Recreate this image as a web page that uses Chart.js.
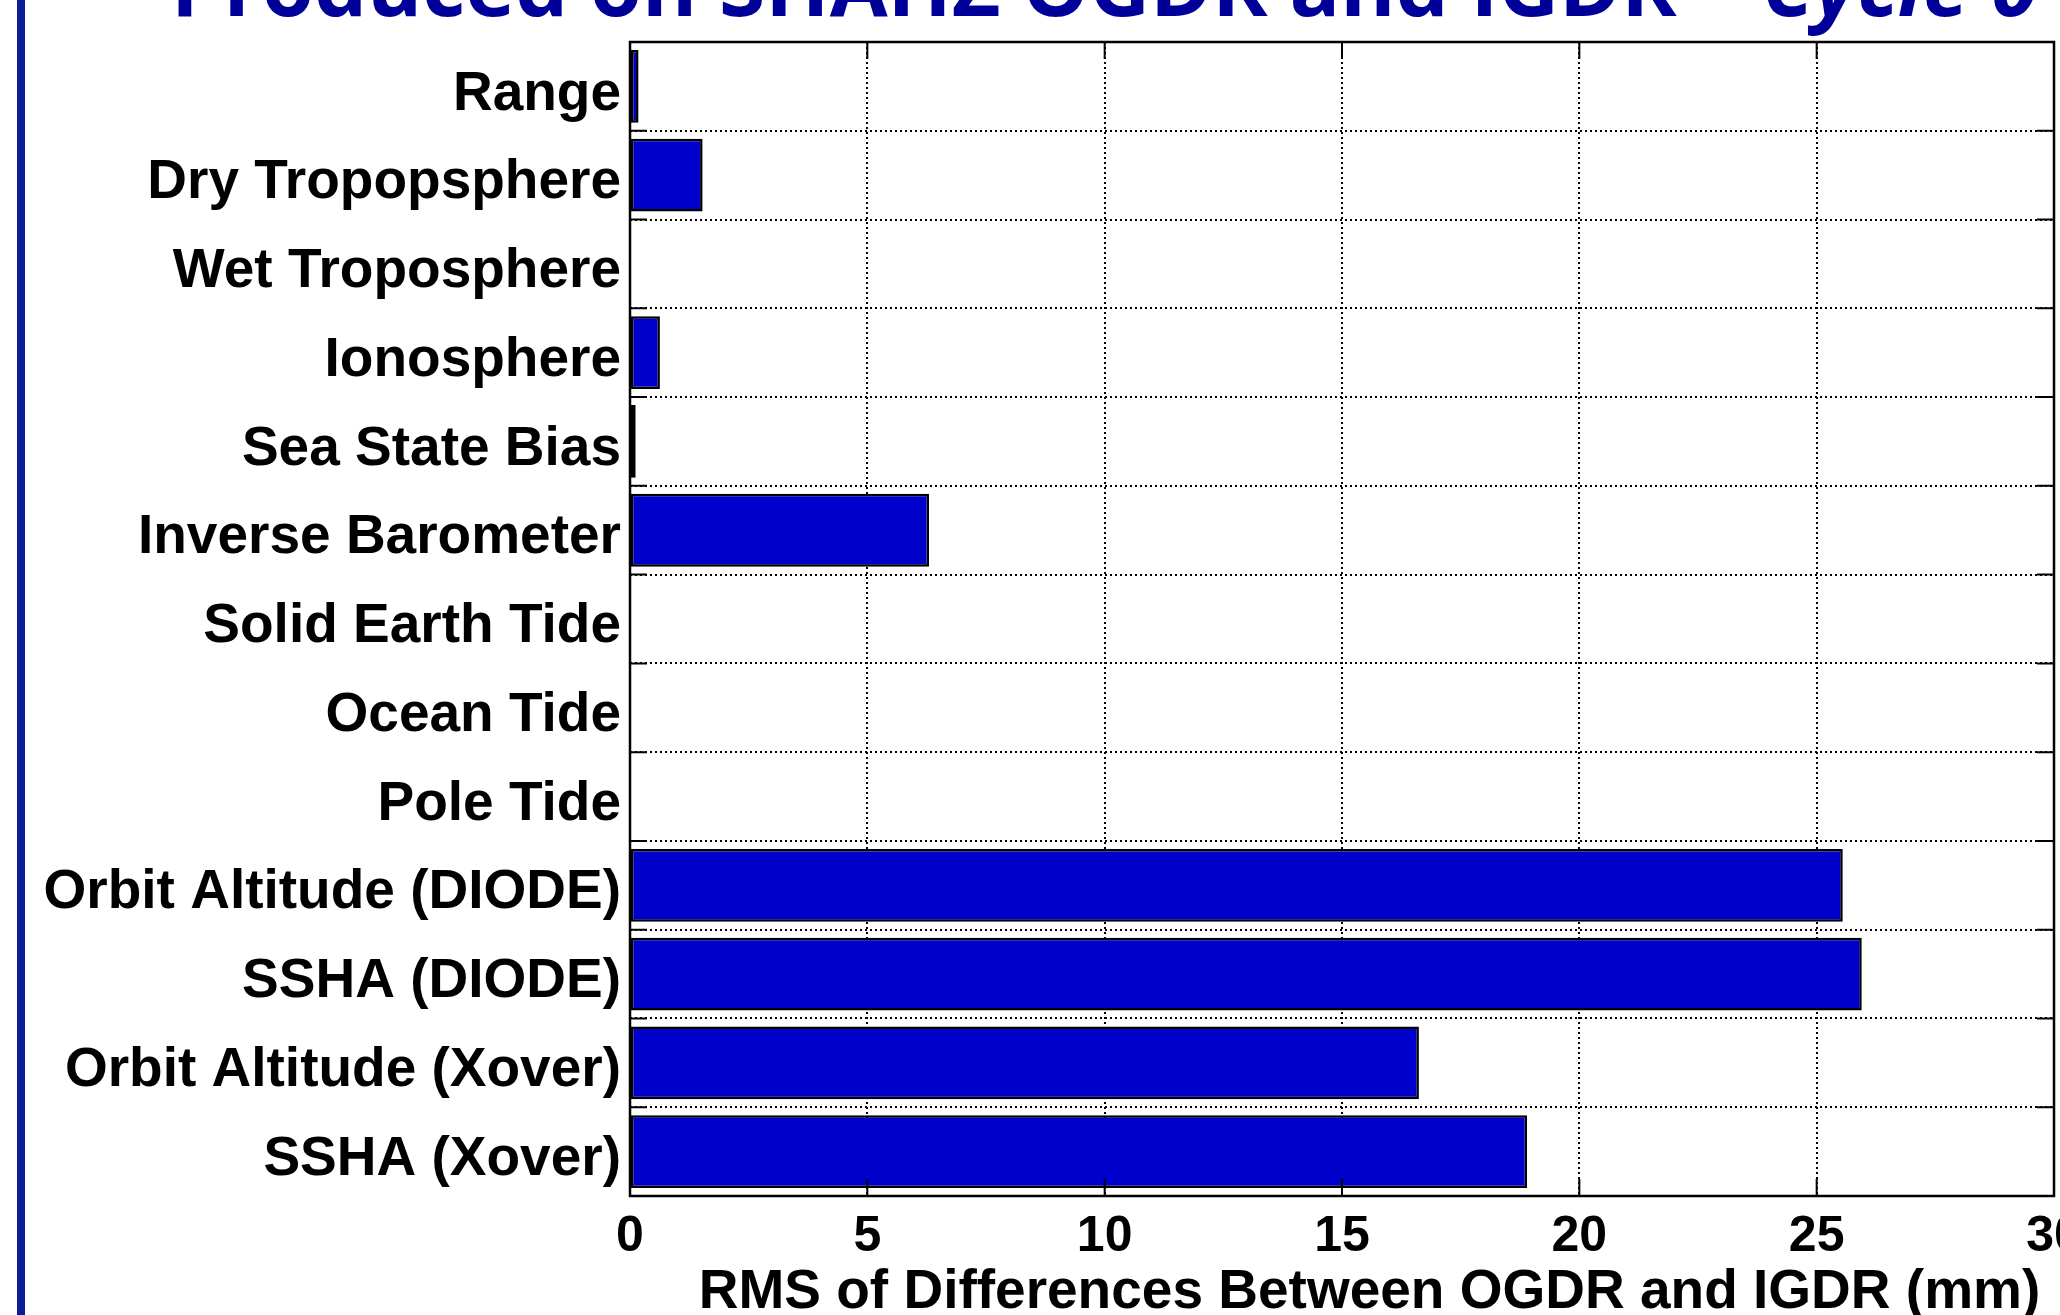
<!DOCTYPE html>
<html>
<head>
<meta charset="utf-8">
<script src="https://cdn.jsdelivr.net/npm/chart.js@4.4.0/dist/chart.umd.min.js"></script>
<style>
  html, body { margin: 0; padding: 0; background: #fff; overflow: hidden; }
  #page { position: relative; width: 2060px; height: 1315px; overflow: hidden; background: #fff; }
  #bande { position: absolute; left: 17px; top: 0; width: 8px; height: 1315px; background: #0c1c94; }
  #titre { position: absolute; left: 171px; top: -58px; white-space: nowrap; font: bold 84px "Open Sans", sans-serif; line-height: 84px; color: #000099; }
  #titre em { font-style: italic; }
  #cadre { position: absolute; left: 0; top: 0; width: 2060px; height: 1315px; }
</style>
</head>
<body>
<div id="page">
  <div id="bande"></div>
  <div id="titre">Produced on SHAHZ OGDR and IGDR – <em>Cycle 0</em></div>
  <div id="cadre"><canvas id="rmsOgdrIgdr"></canvas></div>
</div>
<script>
// Composantes comparées (de haut en bas)
const composantes = [
    'Range',
    'Dry Tropopsphere',
    'Wet Troposphere',
    'Ionosphere',
    'Sea State Bias',
    'Inverse Barometer',
    'Solid Earth Tide',
    'Ocean Tide',
    'Pole Tide',
    'Orbit Altitude (DIODE)',
    'SSHA (DIODE)',
    'Orbit Altitude (Xover)',
    'SSHA (Xover)'
];

// RMS des différences OGDR - IGDR (mm)
const rmsDiff = [0.18, 1.53, 0, 0.63, 0.12, 6.3, 0, 0, 0, 25.55, 25.95, 16.62, 18.9];

// Axe des x
const xMin = 0;
const xMax = 30;
const xPas = 5;

const policeAxes = '"Liberation Sans", Arial, Helvetica, sans-serif';

/**
 * Cadre noir et graduations intérieures, façon figure MATLAB.
 */
const cadreAxes = {
    id: 'cadreAxes',
    afterDatasetsDraw(chart) {
        const { ctx, chartArea: a, scales: { x, y } } = chart;
        const lg = 17;
        ctx.save();
        ctx.setLineDash([]);
        ctx.strokeStyle = '#000';
        ctx.lineWidth = 2;
        ctx.beginPath();
        x.ticks.forEach((t, i) => {
            const px = x.getPixelForTick(i);
            ctx.moveTo(px, a.bottom);
            ctx.lineTo(px, a.bottom - lg);
            ctx.moveTo(px, a.top);
            ctx.lineTo(px, a.top + lg);
        });
        // graduations aux limites entre catégories
        for (let i = 0; i <= composantes.length; i++) {
            const py = y.getPixelForValue(i - 0.5);
            ctx.moveTo(a.left, py);
            ctx.lineTo(a.left + lg, py);
            ctx.moveTo(a.right, py);
            ctx.lineTo(a.right - lg, py);
        }
        ctx.stroke();
        ctx.lineWidth = 2.5;
        ctx.strokeRect(a.left, a.top, a.right - a.left, a.bottom - a.top);
        ctx.restore();
    }
};

new Chart(document.getElementById('rmsOgdrIgdr').getContext('2d'), {
    type: 'bar',
    data: {
        labels: composantes,
        datasets: [{
            data: rmsDiff,
            backgroundColor: '#0000cd',
            borderColor: '#000000',
            borderWidth: 2.5,
            borderSkipped: false,
            barPercentage: 0.82,
            categoryPercentage: 1
        }]
    },
    options: {
        indexAxis: 'y',
        responsive: true,
        maintainAspectRatio: false,
        animation: false,
        layout: { padding: { left: 0, right: 6, top: 42, bottom: 0 } },
        scales: {
            x: {
                min: xMin,
                max: xMax,
                ticks: {
                    stepSize: xPas,
                    padding: 11,
                    maxRotation: 0,
                    color: '#000',
                    font: { family: policeAxes, size: 50, weight: 'bold' }
                },
                grid: { color: '#000', lineWidth: 2, drawTicks: false, borderDash: [2, 3] },
                border: { display: false, dash: [2, 3] },
                title: {
                    display: true,
                    text: '\u2003RMS of Differences Between OGDR and IGDR (mm)',
                    color: '#000',
                    font: { family: policeAxes, size: 55, weight: 'bold', lineHeight: 1 },
                    padding: { top: 0, bottom: -5 }
                },
                afterFit: (s) => {
                    s.height = 119;
                    s.paddingLeft = 0;
                    s.paddingRight = 0;
                }
            },
            y: {
                ticks: {
                    autoSkip: false,
                    padding: 9,
                    labelOffset: 8,
                    color: '#000',
                    font: { family: policeAxes, size: 55, weight: 'bold' }
                },
                grid: { offset: true, color: '#000', lineWidth: 2, drawTicks: false, borderDash: [2, 3] },
                border: { display: false, dash: [2, 3] },
                afterFit: (s) => {
                    s.width = 630;
                    s.paddingTop = 0;
                    s.paddingBottom = 0;
                }
            }
        },
        plugins: {
            legend: { display: false },
            tooltip: { enabled: false }
        }
    },
    plugins: [cadreAxes]
});
</script>
</body>
</html>
